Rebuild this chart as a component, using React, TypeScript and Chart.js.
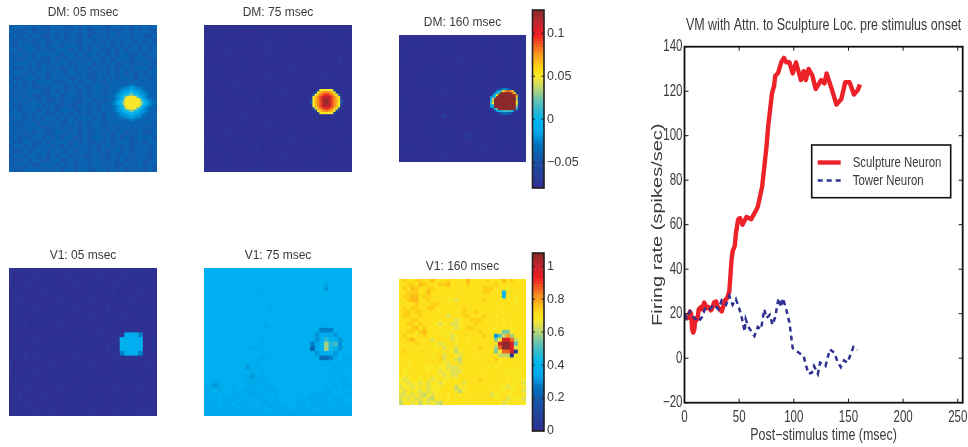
import React, { useEffect, useRef } from "react";
import { Chart, registerables } from "chart.js";

Chart.register(...registerables);

// ---------- data ----------
const sculptureTimes = [0,3,5,6,7,8,9,10,11,12,13,15,16,18,19,20,22,24,25,27,29,30,32,34,35,37,39,41,42,43,44,46,47,48,49,50.7,53,56.7,61,65.5,67,71,75,76.5,80,82,83,85.5,88.5,91,93,96,99,102,106.5,109,111,113.5,117,120,125,128,130,135,139,143.5,147,151,155,158.5,160.5];
const sculptureRates = [18,18,21,20,13,11.5,13,18,17,18,22,23,22,25,24,22.5,23,21.5,22,25,25.5,23.5,22,21,22.5,26,27,30,37,44,48,50.5,56,59,62.3,63,60,63.5,62.5,66.5,68,77,95,104,119,122.5,127,128,133,135,133,133,128,133,125,129,125,130,127,121,125,123.5,128,120.5,114,116.5,124,124,118.5,120.5,123];
const towerTimes = [0,2,5,8,13,16,19,23,27,31,34,38,41,44,47,50,52.5,55,56,58.5,64,67,70,73,75,78,80.5,83,86,88.5,90,93,96,99,103,109,111,113.5,116.5,118.5,122,124,129,133,137,140,143,146,149,154.5,158];
const towerRates = [20,18,21,18.5,16.5,18.5,22.5,22,24,22,26,24,28,24,26.5,22.5,18,12,17.5,14,10,14,13,22,18,19.5,15,18.5,27,23,27,22,16,4.5,3,1,-3,-7,-6.5,-3.5,-7,-2,-3.5,4,2.5,-1.5,-4,-1,-2,5,3.5];
const timeTicks = [0,50,100,150,200,250];
const rateTicks = [-20,0,20,40,60,80,100,120,140];
const dmBarTicks = [-0.05,0,0.05,0.1];
const v1BarTicks = [0,0.2,0.4,0.6,0.8,1];

// Heat-map cells: each character is a level on the colour bar (0..z = bottom..top)
const dm05Background = [
"67767676677766767677667767676767","76677667676767767667767677677776","67676776676767767676767677677667","76767677667767667767676767767676",
"66777667677677767676776767676767","77677767667776767677667676776767","67767677777677676776767677667677","76677676676767767677676777677767",
"67776767677776676767677667676776","76676767767667677676767677677767","67767677677767767667767676767677","76677767677776677667677677767767",
"67767677776677767767676776767676","76767667677767676677767676777667","67677776676767767677667677767677","76767667677677767677776677667676",
"67676767667677667767667677767677","76677776776676677676776677767767","67677767676777667676767767667676","77767677667676767677677767767667",
"67767676776767677767677676677667","76677767767667767677677767676776","67677776677676767677767677677767","76767677667767767667676776767667",
"67676776767677667677776767677776","76677667677776767667676777667677","67767677767676777676776767677767","76676777677767677676767767667767",
"67767767676776776677667677677767","76676776677667677677767676767667","67767667776767677677677667677676","76677776767677677667767676767676"];
const dm05Blob = [
"76777767776777677767","77777777777777777777","77777777799877777777","77778899aaaa99887777",
"777789aaaccaaa987777","77789aacceeccaa98777","7789aaceeiieecaa9877","7789aceimmmmieca9877",
"7789acemmmmmmmeca987","789aceimmmmmmmieca98","789aceimmmmmmmieca98","7789acemmmmmmmeca987",
"7789aceimmmmieca9877","7789aaceeiieecaa9877","77789aacceeccaa98777","777789aaaccaaa987777",
"77778899aaaa99887777","77777777799877777777","77777777777777777777","77677767777767776776"];
const dm75Background = [
"00000000010000000000000000000000","00000000000000000100000000000000","00100000000000000000000000001000","00000000000001000000000000000000",
"00000000000000000000000100000000","00000100000000000000000000000000","00000000000000100000000000000000","00000000000000000000000000000100",
"00000000100000000000000000000000","00000000000000000001000000000000","00100000000000000000000000000000","00000000000000100000000000100000",
"00000000000000000000000000000000","00000010000000000000000000000000","00000000000000000100000000000000","00000000000000000000000000000000",
"00000000000100000000000000000000","00100000000000000000000000000000","00000000000000000000010000000000","00000000000000000000000000000000",
"00000000100000000000000000000100","00000000000000100000000000000000","00000000000000000000000000000000","00000100000000000000000000000000",
"00000000000000000001000000000000","00000000000000000000000000000000","00100000000100000000000000000000","00000000000000000000000000100000",
"00000000000000000100000000000000","00000100000000000000000000000000","00000000000000000000000100000000","00000000000100000000000000000000"];
const dm75Blob = [
"00000000000000","0003mmmmmm3000","003mpqrrqpm300","06mprtuutrpm60","0mprtwxxwtrpm0","3mprtxyyxtrpm3","6mqrtxzzxtrqm6",
"3mprtxyyxtrpm3","0mprtwxxwtrpm0","06mprtuutrpm60","003mpqrrqpm300","0003mmmmmm3000","00000000000000"];
const dm160Background = [
"00000000000000000000000000000000","00001000000000000000010000000000","00000000000000000000000000000000","00000000000010000000000000200000",
"00000000000000000000000000000000","01000000000000000000000000000000","00000000000000010000000000000000","00000000000000000000000000010000",
"00000000100000000000000000000000","00000000000000000000100000000000","00000000000000000000000000000000","00000010000000000000000000000000",
"00000000000000000000000000000000","00000000000000000000000000000000","00000000000100000000000000000000","00000000000000000000010000000000",
"00000000000000000000000000000000","01000000000000000000000000000000","00000000000000000000000000000000","00000000000000000000000000000000",
"00000000000200000000000000000000","00000000000000000000000000000000","00000000000000000000000000100000","00000000100000000000000000000000",
"00000000000000000000000000000000","00000000000000000200000000000000","00000000000000000000000000000000","00000000000000000000000000000000",
"00100000000000000000010000000000","00000000000000000000000000000000","00000000000100000000000000000000","00000000000000000000000000000000"];
const dm160Blob = [
"0000000000000000","000003 79a9730000".replace(" ",""),"0000acgnqssqo300","000achzzzzzzsn30","00aenzzzzzzzzzr3","0achzzzzzzzzzzo3",
"0cnzzzzzzzzzzzi3","0ejzzzzzzzzzzzm3","0hmzzzzzzzzzzzm3","0cfzzzzzzzzzzzk3","0aczzzzzzzzzzzh0","003ehzzzzzzzzze0",
"0003adffgggfd300","0000025888752000"];
const v105Rows = [
"00100000000000000000000000010000","00000100000001000000000001000000","10000000100000000001000000000100","00001000000000100000000100000000",
"00000000010000000010000000000000","01000001000000000000001000001000","00000000000100000100000000000000","00100000000000000000000000100000",
"00000100000000100000010000000000","00000000001000000000000000000100","01000000000000000100000010000000","00000010000000000000010000000000",
"00010000000100000000000000000000","00000000000000010000000000100000","000000000000000000010000"+"0ccc9000",
"000001000000000000000001"+"ccccc000","000000000010000001000000"+"ccccc001","010000000000000000000100"+"ccccc000",
"000000100000001000000000"+"9ccc9000","00010000000000000000000000010000","00000000010000000100000000000000","10000000000001000000000100000010",
"00000100000000000000000000000000","00000000001000000100000001000000","01000000000000000000100000000000","00001000000100000000000000001000",
"00000000000000010000000100000000","00100001000000000000000000000000","00000000000001000001000000100000","00001000000000000000000000000000",
"01000000010000000100000100000100","00000100000000000000000000010000"];
const v175Rows = [
"cccccccccccccccccccccccccccccccc","cccccccccccccccccccccccccccccccc","cccccccccccccccccccccccccccccccc","ccccccccccccccccccccccccccbccccc",
"cccccccccccbccccccccccccccaccccc","cccccccccccccccccccccccccccccccc","cccccccccccccccccccccccccccccccc","cccccccccccccccccccccccccccccccc",
"ccccccccccccccbccccccccccccccccc","cccccccccccccccccccccccccccccccc","cccccccccccccccccccccccccccccccc","cccccccccccccccccccccccccccccccc",
"cccccccccccccbcccccccccccccccccc","ccccccccccccccccccccccccc999cccc","ccccccccccccccccccccccccabbbaccc","ccccccccccccbcccccccccccacfdcacc",
"ccccccccccccccccccccccc9bdjfgacc","ccccccccccbbccccccccccc7bdjedacc","ccccccccccccccbcccccccccacccaccc","ccccccccccccbcccccccccccc889bcbb",
"cccccccccccbcccccccccccccccccccc","cccccccccacbccccccccccccccccbcbc","ccccccccccbcbccccccccccccccccbcc","cccccccccbacbbcccccccccccccbcbbc",
"ccbbcccccbbbbbcccccccccccccccbbc","cbabcccccbbbcbbcccccccccccbcbcbb","bbcbccbcbbbccbbbccccccccccbbccbc","cbbcbcbbcbbbbccbcccccccbbbbbccbb",
"bcbbbbbcbbcbbbcbccccbcbbbbbcbbcc","bbbcbbcbbbbcbbbbbbccbbcbbbbbcbbb","bbbbcbbcbbbbbcbbbbbcbbbbcbbbbbbb","bbbbbbbbbbbbbbbbbbbbbbbbbbbbbbbb"];
const v1160Rows = [
"nonnoonnpnnnonnnnpnnnnonnnpnonnn","nnoonponnnoopnnnnonnnnnnonnnnnnn","nonponnoonnnnnnmnnnnnooonnnmnnnn","nnooonnpnnnnnnnnnnnnnoonnndnnnnn",
"nooppnoonnnnmnnnnnnnnnnnnndnnmnn","nnoppnnonnnnmmlnnnnnnonnnnnnnmnn","nnnnonnnoonnnnnnnnnnnnnnmnnnnmnn","nonoonnoonnnnnnnonnnnnnnnmnnnnnn",
"noonoonnnnnnmnnnonnonnnnnnmnnnnn","noonnonnnnnnlnnnoonnnonnmnnnnnnn","nnnoonnnnnmnnnlmnnooonnnnnmnnnnn","nnoononnnmlmnllmnnnonnnnnnmnnnnn",
"nnnopnonmnmnnmlmnoonnnnnmnnnmnnn","nnoonopnnmnmmmnnnnnnonnnnmiimnnn","nonnnnonnnnnmlmnnnnnnonnahkqjnnn","nnopnnmnlnnnnlmnnmnnnnnnimwvskmn",
"nnnnonnnnmlmnnmnnnnnnnnnnwzzwhnn","nnnnmnmnnmnlmnlnnnnnonnnjszzvlnn","nonnnnnnnnnmnmkmnnnnnnnnimssw1nn","nnnnnnnnmnnlnnmlnnnnmnnnnkkk1mnn",
"nnnnnnnnnnolnnlknnmnnnnnonnnnnnn","nnmnnnnnnnnmlnnlnnnnnnnnnmnnnnnn","nnmnnnnmmnmmlllnnnnnnnmnmnnnnnmn","nmnnnnnmnnlmmlllnnnnnnnnnnmnmnnn",
"nmmnnnnnnmmlmllnnnnnnmnnnnnmnmmn","mlmnnmnmlmnmmnmnnnnnonnnnnnnnnmm","mmlmmlmlnmlmnnnnlnnnnnnnnmnmnmnl","lmmlmmnlmmmnnnkmmnnnnnnnnnmlmnnm",
"mlnmmlmlmmnnnnlkmnnnnnnmnmmnmmnl","llmlmlkmlmnnmnnmnnnnnnnlmmnmmnnm","lmlmllmlkmmnmnmnnmnnmnnnmnnlmmml","kmnlmkmlmlkmnnnnmnnnmnnnnmlmnnmm"];

const colourStops: [number, string][] = [[0,"#2e3192"],[0.14,"#1b4fa3"],[0.24,"#0072bc"],[0.28,"#0092d8"],[0.31,"#00a8ea"],[0.34,"#00aeef"],[0.38,"#00b6ee"],[0.44,"#2fb9d0"],[0.5,"#6dc5ae"],[0.57,"#c3d96b"],[0.6,"#e2e050"],[0.63,"#f9e825"],[0.66,"#fde01a"],[0.7,"#fdc716"],[0.76,"#f7941e"],[0.87,"#ed1c24"],[0.94,"#c1272d"],[1,"#8e2a2a"]];

// ---------- helpers ----------
const hexRgb = (h: string) => [1, 3, 5].map((i) => parseInt(h.slice(i, i + 2), 16));
function colourAt(t: number) {
  for (let i = 1; i < colourStops.length; i++) {
    const [t1, c1] = colourStops[i];
    const [t0, c0] = colourStops[i - 1];
    if (t <= t1) {
      const f = (t - t0) / (t1 - t0);
      const a = hexRgb(c0), b = hexRgb(c1);
      return `rgb(${a.map((v, k) => Math.round(v + (b[k] - v) * f)).join(",")})`;
    }
  }
  return colourStops[colourStops.length - 1][1];
}
const levelOf = (ch: string) => parseInt(ch, 36) / 35;

function cellDataset(rows: string[], span: number, startCol: number, startRow: number, panelWidth: number) {
  const data: { x: number; y: number }[] = [];
  const colours: string[] = [];
  rows.forEach((row, r) => {
    for (let c = 0; c < row.length; c++) {
      data.push({ x: (startCol + c + 0.5) * span, y: (startRow + r + 0.5) * span });
      colours.push(colourAt(levelOf(row[c])));
    }
  });
  const side = (panelWidth / 32) * span;
  return {
    data,
    pointStyle: "rect",
    pointBackgroundColor: colours,
    pointBorderWidth: 0,
    pointRadius: (side / 2 + 0.3) / Math.SQRT1_2,
    pointHoverRadius: (side / 2 + 0.3) / Math.SQRT1_2,
    showLine: false,
    clip: 0,
  };
}

// Tick labels may overhang the plot, as in the reference: no margin is reserved for them
const noLabelMargins = (axis: any) => { axis._calculatePadding = () => {}; };

const sansFont = "'Liberation Sans', Arial, sans-serif";
const textColour = "#3a3a3a";

const yTitleText = "Firing rate (spikes/sec)";
const xTitleText = "Post\u2212stimulus time (msec)";
const lineTitleText = "VM with Attn. to Sculpture Loc. pre stimulus onset";

const heatPanels = [
  { title: "DM: 05 msec", rows: dm05Background, blob: dm05Blob, col: 43, row: 24, left: 9, top: 25, w: 148, h: 147, blur: 0.55 },
  { title: "DM: 75 msec", rows: dm75Background, blob: dm75Blob, col: 46, row: 27, left: 204, top: 25, w: 148, h: 147, blur: 0.55 },
  { title: "DM: 160 msec", rows: dm160Background, blob: dm160Blob, col: 45, row: 26, left: 399, top: 35, w: 127, h: 127, blur: 0.5 },
  { title: "V1: 05 msec", rows: v105Rows, blob: null, col: 0, row: 0, left: 9, top: 268, w: 148, h: 148, blur: 0.4 },
  { title: "V1: 75 msec", rows: v175Rows, blob: null, col: 0, row: 0, left: 204, top: 268, w: 148, h: 148, blur: 0.4 },
  { title: "V1: 160 msec", rows: v1160Rows, blob: null, col: 0, row: 0, left: 399, top: 279, w: 127, h: 126, blur: 0.3 },
];
const PAD = 3;
const TITLE_H = 25;

const barPanels = [
  { ticks: dmBarTicks, min: -0.08, max: 0.127, top: 9.5, bottom: 187 },
  { ticks: v1BarTicks, min: 0, max: 1.08, top: 252.8, bottom: 430.5 },
];

// fills the plot behind the cells so anti-aliased seams between them never show white
const underlayPlugin = {
  id: "cellUnderlay",
  beforeDatasetsDraw(chart: any, _a: any, opts: any) {
    const { ctx, chartArea: a } = chart;
    ctx.save();
    ctx.fillStyle = opts.colour;
    ctx.fillRect(a.left, a.top, a.right - a.left, a.bottom - a.top);
    ctx.restore();
  },
};

// Reference type is a squeezed/stretched Helvetica: width factor per text
const squeezePlugin = {
  id: "squeezeText",
  install(chart: any) {
    const ctx = chart.ctx;
    const orig = ctx.fillText.bind(ctx);
    ctx.fillText = (text: string, x: number, y: number) => {
      const f = chart.options.plugins.squeezeText;
      const sx = f.byText[text] ?? f.normal;
      ctx.save();
      ctx.translate(x, y);
      ctx.scale(sx, 1);
      orig(text, 0, 0);
      ctx.restore();
    };
  },
};

const framePlugin = {
  id: "matlabFrame",
  afterDatasetsDraw(chart: any, _a: any, opts: any) {
    const { ctx, chartArea: a, scales } = chart;
    ctx.save();
    ctx.strokeStyle = opts.colour;
    ctx.lineWidth = opts.tickWidth;
    ctx.beginPath();
    const len = opts.tickLength;
    if (opts.xTicks) {
      scales.x.ticks.forEach((t: any) => {
        const p = scales.x.getPixelForValue(t.value);
        ctx.moveTo(p, a.bottom); ctx.lineTo(p, a.bottom - len);
        ctx.moveTo(p, a.top); ctx.lineTo(p, a.top + len);
      });
    }
    scales.y.ticks.forEach((t: any) => {
      const p = scales.y.getPixelForValue(t.value);
      ctx.moveTo(a.left, p); ctx.lineTo(a.left + len, p);
      ctx.moveTo(a.right, p); ctx.lineTo(a.right - len, p);
    });
    ctx.stroke();
    ctx.lineWidth = opts.lineWidth;
    ctx.strokeRect(a.left, a.top, a.right - a.left, a.bottom - a.top);
    ctx.restore();
  },
};

const boxLegendPlugin = {
  id: "boxLegend",
  afterDraw(chart: any, _a: any, opts: any) {
    const { ctx } = chart;
    const { x, y, w, h } = opts;
    ctx.save();
    ctx.fillStyle = "#fff";
    ctx.strokeStyle = "#111";
    ctx.lineWidth = 1.6;
    ctx.fillRect(x, y, w, h);
    ctx.strokeRect(x, y, w, h);
    ctx.textBaseline = "middle";
    ctx.font = opts.font;
    chart.data.datasets.forEach((d: any, i: number) => {
      const ly = y + opts.firstRow + i * opts.rowGap;
      ctx.beginPath();
      ctx.strokeStyle = d.borderColor;
      ctx.lineWidth = d.borderWidth;
      ctx.setLineDash(d.borderDash || []);
      ctx.moveTo(x + 6, ly);
      ctx.lineTo(x + 29, ly);
      ctx.stroke();
      ctx.setLineDash([]);
      ctx.fillStyle = textColour;
      ctx.fillText(d.label, x + 41, ly);
    });
    ctx.restore();
  },
};

export default function App() {
  const heatRefs = useRef<(HTMLCanvasElement | null)[]>([]);
  const barRefs = useRef<(HTMLCanvasElement | null)[]>([]);
  const lineRef = useRef<HTMLCanvasElement | null>(null);

  useEffect(() => {
    const charts: Chart[] = [];

    heatPanels.forEach((p, i) => {
      const datasets: any[] = [cellDataset(p.rows, 1, 0, 0, p.w)];
      if (p.blob) datasets.unshift(cellDataset(p.blob, 0.5, p.col, p.row, p.w));
      charts.push(
        new Chart(heatRefs.current[i] as HTMLCanvasElement, {
          type: "scatter",
          data: { datasets },
          options: {
            responsive: false,
            animation: false,
            events: [],
            layout: { padding: PAD, autoPadding: false },
            scales: {
              x: { display: false, min: 0, max: 32 },
              y: { display: false, min: 0, max: 32, reverse: true },
            },
            plugins: {
              legend: { display: false },
              tooltip: { enabled: false },
              cellUnderlay: { colour: colourAt(levelOf(p.rows[0][0])) },
              title: {
                display: true,
                text: p.title,
                color: textColour,
                font: { family: sansFont, size: 12, weight: "normal", lineHeight: "13px" },
                padding: { top: 6, bottom: 6 },
              },
            },
          } as any,
          plugins: [underlayPlugin],
        })
      );
    });

    barPanels.forEach((b, i) => {
      const datasets = Array.from({ length: 64 }, (_, k) => {
        const step = (b.max - b.min) / 64;
        return {
          data: [[b.min + k * step, Math.min(b.max, b.min + (k + 1.2) * step)]],
          backgroundColor: colourAt(k / 63),
          barPercentage: 1,
          categoryPercentage: 1,
          grouped: false,
          order: 64 - k,
        };
      });
      charts.push(
        new Chart(barRefs.current[i] as HTMLCanvasElement, {
          type: "bar",
          data: { labels: ["scale"], datasets },
          options: {
            responsive: false,
            animation: false,
            events: [],
            layout: { padding: { left: 2.5, top: 4, bottom: 4, right: 0 }, autoPadding: false },
            scales: {
              x: { display: false },
              y: {
                position: "right",
                min: b.min,
                max: b.max,
                grid: { display: false, drawTicks: false },
                border: { display: false },
                beforeFit: noLabelMargins,
                afterBuildTicks: (axis: any) => { axis.ticks = b.ticks.map((value) => ({ value })); },
                afterFit: (axis: any) => { axis.width = 46; },
                ticks: {
                  autoSkip: false,
                  padding: 3,
                  color: textColour,
                  font: { family: sansFont, size: 12.5 },
                  callback: (v: any) => String(v).replace("-", "\u2212"),
                },
              },
            },
            plugins: {
              legend: { display: false },
              tooltip: { enabled: false },
              matlabFrame: { colour: "#231f20", lineWidth: 1.6, tickWidth: 1, tickLength: 2.5, xTicks: false },
            },
          } as any,
          plugins: [framePlugin],
        })
      );
    });

    charts.push(
      new Chart(lineRef.current as HTMLCanvasElement, {
        type: "line",
        data: {
          datasets: [
            {
              label: "Sculpture Neuron",
              data: sculptureTimes.map((x, i) => ({ x, y: sculptureRates[i] })),
              borderColor: "#ed2229",
              borderWidth: 4.4,
              pointRadius: 0,
              tension: 0,
              borderJoinStyle: "round",
              order: 2,
            },
            {
              label: "Tower Neuron",
              data: towerTimes.map((x, i) => ({ x, y: towerRates[i] })),
              borderColor: "#2e3192",
              borderWidth: 2.5,
              borderDash: [5, 4],
              pointRadius: 0,
              tension: 0,
              order: 1,
            },
          ],
        },
        options: {
          responsive: false,
          animation: false,
          events: [],
          layout: { padding: { right: 5.3, left: 0, top: 0, bottom: 0 }, autoPadding: false },
          scales: {
            x: {
              type: "linear",
              min: 0,
              max: 254.5,
              grid: { display: false, drawTicks: false },
              border: { display: false },
              beforeFit: noLabelMargins,
              afterBuildTicks: (axis: any) => { axis.ticks = timeTicks.map((value) => ({ value })); },
              afterFit: (axis: any) => { axis.height = 44.3; },
              ticks: { autoSkip: false, maxRotation: 0, padding: 5, color: textColour, font: { family: sansFont, size: 16 } },
              title: {
                display: true,
                text: xTitleText,
                color: textColour,
                font: { family: sansFont, size: 16, lineHeight: "16px" },
                padding: { top: 0, bottom: 3 },
              },
            },
            y: {
              min: -20,
              max: 140,
              grid: { display: false, drawTicks: false },
              border: { display: false },
              beforeFit: noLabelMargins,
              afterBuildTicks: (axis: any) => { axis.ticks = rateTicks.map((value) => ({ value })); },
              afterFit: (axis: any) => { axis.width = 44.5; },
              ticks: {
                autoSkip: false,
                padding: 2,
                color: textColour,
                font: { family: sansFont, size: 16 },
                callback: (v: any) => String(v).replace("-", "\u2212"),
              },
              title: {
                display: true,
                text: yTitleText,
                color: textColour,
                font: { family: sansFont, size: 14, lineHeight: "16px" },
                padding: { top: 10, bottom: 0 },
              },
            },
          },
          plugins: {
            legend: { display: false },
            tooltip: { enabled: false },
            title: {
              display: true,
              fullSize: false,
              text: lineTitleText,
              color: textColour,
              font: { family: sansFont, size: 16, weight: "normal", lineHeight: "16px" },
              padding: { top: 8, bottom: 12.7 },
            },
            squeezeText: {
              normal: 0.72,
              byText: { [yTitleText]: 1.43, [xTitleText]: 0.78, [lineTitleText]: 0.78, "Sculpture Neuron": 0.76, "Tower Neuron": 0.76 },
            },
            matlabFrame: { colour: "#111", lineWidth: 1.8, tickWidth: 1, tickLength: 4, xTicks: true },
            boxLegend: { x: 171.7, y: 135, w: 139, h: 52.7, firstRow: 17.5, rowGap: 18, font: `15px ${sansFont}` },
          },
        } as any,
        plugins: [squeezePlugin, framePlugin, boxLegendPlugin],
      })
    );

    return () => charts.forEach((c) => c.destroy());
  }, []);

  return (
    <div style={{ position: "absolute", left: 0, top: 0, width: 968, height: 447, background: "#fff", overflow: "hidden" }}>
      {heatPanels.map((p, i) => (
        <canvas
          key={p.title}
          ref={(el) => { heatRefs.current[i] = el; }}
          width={p.w + PAD * 2}
          height={p.h + TITLE_H + PAD * 2}
          style={{ position: "absolute", left: p.left - PAD, top: p.top - TITLE_H - PAD, filter: `blur(${p.blur}px)` }}
        />
      ))}
      {barPanels.map((b, i) => (
        <canvas
          key={i}
          ref={(el) => { barRefs.current[i] = el; }}
          width={60.5}
          height={Math.round(b.bottom - b.top + 8)}
          style={{ position: "absolute", left: 530, top: b.top - 4 }}
        />
      ))}
      <canvas ref={lineRef} width={328} height={437} style={{ position: "absolute", left: 640, top: 10 }} />
    </div>
  );
}
